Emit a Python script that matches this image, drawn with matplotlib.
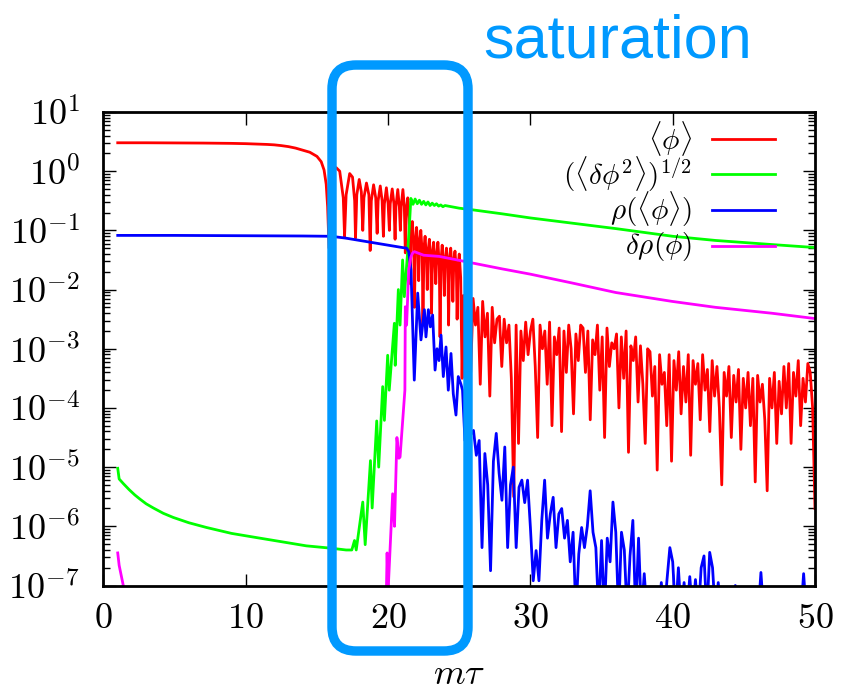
import numpy as np
import matplotlib
matplotlib.use("Agg")
import matplotlib.pyplot as plt
from matplotlib.patches import FancyBboxPatch
from matplotlib.transforms import IdentityTransform
from matplotlib.ticker import LogLocator, NullFormatter

plt.rcParams['mathtext.fontset'] = 'cm'
plt.rcParams['font.family'] = ['DejaVu Serif']

# ---------------- data (y as log10) ----------------
# <phi>  (red): smooth part, oscillating part, noisy tail
red_t_smooth = [1.0, 3, 5, 7, 9, 10, 11, 11.5, 12, 12.5, 13, 13.5, 14, 14.5, 15, 15.3, 15.5, 15.65, 15.75, 15.85]
red_log_smooth = [0.48, 0.48, 0.478, 0.475, 0.47, 0.465, 0.457, 0.452, 0.445, 0.432, 0.415, 0.39, 0.355, 0.32, 0.25,
                  0.16, 0.02, -0.22, -0.6, -1.3]
red_t_osc = [16.1, 16.35, 16.6, 16.85, 16.94,
             17.05, 17.3, 17.5, 17.65, 17.71,
             17.8, 17.97, 18.12, 18.22,
             18.3, 18.48, 18.65, 18.74,
             18.82, 18.98, 19.13, 19.23,
             19.3, 19.45, 19.58, 19.67,
             19.74, 19.88, 20.0, 20.09,
             20.15, 20.29, 20.41, 20.49,
             20.55, 20.68, 20.79, 20.86,
             20.92, 21.04, 21.14, 21.21,
             21.27, 21.38, 21.48, 21.55,
             21.62, 21.7, 21.8, 21.85,
             21.92, 22.0, 22.1, 22.15,
             22.22, 22.3, 22.4, 22.45,
             22.52, 22.6, 22.7, 22.75,
             22.82, 22.9, 23.0, 23.05,
             23.12, 23.2, 23.3, 23.35,
             23.42, 23.5, 23.6, 23.65,
             23.72, 23.8, 23.9, 23.95,
             24.02, 24.1, 24.2, 24.25,
             24.32, 24.4, 24.5, 24.55,
             24.62, 24.7, 24.8, 24.85,
             24.92, 25.0, 25.1, 25.2]
red_log_osc = [0.0, 0.06, 0.0, -0.45, -1.10,
               -0.4, -0.04, -0.1, -0.5, -1.13,
               -0.4, -0.14, -0.35, -1.0,
               -0.45, -0.2, -0.4, -1.34,
               -0.5, -0.23, -0.45, -1.05,
               -0.5, -0.25, -0.5, -1.1,
               -0.55, -0.28, -0.55, -1.0,
               -0.55, -0.30, -0.55, -1.15,
               -0.6, -0.31, -0.6, -1.0,
               -0.6, -0.31, -0.6, -1.38,
               -0.7, -0.45, -0.8, -1.9,
               -1.0, -0.85, -1.2, -2.3,
               -1.3, -0.95, -1.3, -1.85,
               -1.2, -1.0, -1.4, -2.6,
               -1.3, -1.1, -1.5, -2.0,
               -1.35, -1.15, -1.5, -2.4,
               -1.4, -1.2, -1.6, -1.9,
               -1.4, -1.2, -1.6, -2.8,
               -1.5, -1.25, -1.6, -2.1,
               -1.5, -1.3, -1.6, -2.6,
               -1.5, -1.3, -1.7, -2.2,
               -1.5, -1.35, -1.7, -2.5,
               -1.6, -1.4, -1.8, -3.5]
red_log_tail = [-2.1, -2.9, -2.2, -3.4, -2.15, -2.6, -2.3, -3.6, -2.2, -2.8, -2.4, -3.8, -2.3, -2.9, -2.5,
                -2.45, -3.3, -2.5, -2.9, -2.6, -3.5, -5.5, -2.6, -4.6, -2.7, -3.2, -2.55, -3.1, -2.7,
                -2.5, -3.3, -4.5, -2.6, -3.0, -2.7, -3.6, -2.55, -4.3, -2.8, -3.1, -2.65, -4.4, -2.7, -3.4,
                -2.6, -3.0, -4.1, -2.75, -3.2, -2.6,
                -2.65, -3.4, -2.7, -4.2, -2.85, -3.1, -2.6, -3.7, -2.8, -4.5, -2.65, -3.3, -2.9, -3.0,
                -2.75, -4.0, -2.8, -3.5, -2.7, -4.75, -2.95, -3.2, -2.8, -3.9, -2.95, -3.6, -4.6, -3.0,
                -3.05, -3.8, -3.3, -5.05, -3.1, -3.6, -3.4, -4.3, -3.1, -4.9, -3.2, -3.7, -3.05, -4.1,
                -3.3, -3.9, -3.1, -4.8, -3.2, -3.6, -3.25, -4.2, -3.1, -3.7, -3.35, -4.4, -3.2, -3.8,
                -3.3, -4.0, -5.3, -3.4, -3.8, -3.3, -4.5, -3.45, -3.9, -3.35, -4.7, -3.5, -4.0, -3.4,
                -4.3, -3.5, -5.25, -3.45, -3.9, -3.6, -4.2, -5.4, -3.5, -4.0, -3.4, -4.6, -3.55, -4.1,
                -3.3, -4.0, -3.25, -4.6, -3.4, -3.8, -3.2, -4.3, -3.5, -3.9, -3.25, -3.4, -4.0, -5.7]

# (<dphi^2>)^(1/2)  (green)
green_t = [1.0, 1.1, 1.4, 1.8, 2.2, 2.56, 3.0, 3.5, 4.2, 4.9, 6, 7.24, 9, 10.74, 12.5, 14.25, 16, 17.05,
           17.45, 17.64, 17.76,
           18.22, 18.39, 18.76, 18.88, 19.2, 19.34, 19.62, 19.74, 19.97, 20.08, 20.44, 20.5, 20.72, 20.84,
           21.02, 21.14, 21.37, 21.5, 21.6, 21.75, 21.9, 22.05, 22.2, 22.35, 22.5, 22.65, 22.8, 22.95,
           23.1, 23.25, 23.4, 23.55, 23.7, 23.85, 24, 25, 26, 28, 30, 33, 36, 40, 43, 47, 50]
green_log = [-5.02, -5.2, -5.28, -5.38, -5.47, -5.54, -5.62, -5.69, -5.78, -5.85, -5.94, -6.02, -6.12,
             -6.19, -6.26, -6.33, -6.37, -6.40,
             -6.40, -6.24, -6.4, -5.59, -6.31, -4.89, -5.69, -4.22, -5.0, -3.64, -4.21, -3.11, -3.7, -2.57,
             -3.28, -2.0, -2.6, -1.5, -2.12, -1.38, -0.9, -0.46, -0.56, -0.47, -0.55, -0.49, -0.56, -0.51,
             -0.57, -0.52, -0.58, -0.54, -0.58, -0.55, -0.59, -0.57, -0.6, -0.58, -0.625, -0.655, -0.72,
             -0.79, -0.88, -0.97, -1.10, -1.17, -1.24, -1.29]

# rho(<phi>)  (blue): flat part and fall, then noisy tail on a 0.2 grid
blue_t_head = [1.0, 5, 10, 14, 16, 17, 18, 19, 20, 20.5, 21.0, 21.3, 21.45, 21.55, 21.61, 21.7, 21.84,
               22.08, 22.31, 22.55, 22.66, 22.83, 22.97, 23.13, 23.3, 23.44, 23.58, 23.72, 23.88, 24.07,
               24.23, 24.42, 24.58, 24.77, 24.93, 25.12, 25.23, 25.4]
blue_log_head = [-1.085, -1.085, -1.09, -1.095, -1.10, -1.13, -1.17, -1.21, -1.25, -1.27, -1.29, -1.30,
                 -1.36, -1.55, -1.67, -2.4, -3.53, -2.06, -2.85, -2.34, -2.8, -2.34, -2.63, -2.43, -3.36,
                 -3.0, -3.2, -2.77, -3.47, -2.97, -3.7, -3.08, -3.76, -4.12, -3.47, -3.6, -3.7, -4.55]
blue_log_tail = [-4.1, -4.45, -4.38, -4.8, -4.55, -6.36, -4.77, -5.3, -6.75, -4.9,
                 -4.43, -5.1, -5.56, -4.66, -6.36, -5.3, -5.0, -6.36, -5.34, -5.22,
                 -5.6, -5.22, -6.02, -6.92, -6.41, -6.92, -5.9, -5.22, -6.2, -5.79,
                 -5.51, -6.36, -5.79, -5.7, -6.2, -5.9, -6.6, -6.1, -7.5, -6.47,
                 -6.02, -6.36, -6.0, -5.4, -6.1, -6.36, -7.5, -6.24, -7.5, -6.2,
                 -6.6, -5.59, -6.1, -7.5, -6.1, -6.4, -7.5, -6.5, -5.9, -7.5,
                 -6.2, -7.5, -6.8, -7.5, -7.5, -7.5, -7.5, -7.5, -6.95, -7.5,
                 -6.9, -6.36, -6.6, -7.5, -6.7, -7.5, -6.95, -7.5, -6.85, -7.5,
                 -6.9, -7.5, -6.7, -6.5, -7.5, -6.44, -6.7, -7.5, -6.95, -7.5,
                 -7.5, -7.5, -7.5, -7.5, -7.0, -7.5, -7.5, -7.5, -7.5, -7.5,
                 -7.5, -7.5, -7.5, -6.78, -7.5, -7.5, -7.5, -7.5, -7.5, -7.5,
                 -7.5, -7.5, -7.5, -7.5, -7.5, -7.5, -7.5, -7.5, -6.8, -7.5,
                 -7.5, -7.5, -7.5]

# delta rho(phi)  (magenta)
mag_t = [1.0, 1.1, 1.39, 1.6, 19.85, 19.93, 20.0, 20.32, 20.45, 20.62, 20.76, 20.84, 21.18, 21.21, 21.3,
         21.45, 21.6, 21.73, 21.85, 22.5, 23.6, 25.9, 28, 30, 32.95, 36, 39.96, 43, 46.97, 50]
mag_log = [-6.45, -6.66, -7.0, -7.5, -7.5, -6.45, -7.1, -5.45, -6.0, -4.5, -4.85, -4.83, -3.7, -2.29, -2.6,
           -1.67, -1.45, -1.38, -1.36, -1.42, -1.44, -1.55, -1.65, -1.74, -1.89, -2.05, -2.2, -2.3, -2.4, -2.49]

labels = [r'$\langle\phi\rangle$', r'$(\langle\delta\phi^2\rangle)^{1/2}$',
          r'$\rho(\langle\phi\rangle)$', r'$\delta\rho(\phi)$']
colors = ['#ff0000', '#00ff00', '#0000ff', '#ff00ff']

red_t = np.concatenate([red_t_smooth, red_t_osc, np.linspace(25.3, 50, len(red_log_tail))])
red_v = 10.0 ** np.concatenate([red_log_smooth, red_log_osc, red_log_tail])
green_v = 10.0 ** np.array(green_log)
blue_t = np.concatenate([blue_t_head, np.linspace(25.6, 50, len(blue_log_tail))])
blue_v = 10.0 ** np.concatenate([blue_log_head, blue_log_tail])
mag_v = 10.0 ** np.array(mag_log)

# ---------------- figure ----------------
W, H = 845, 696
fig = plt.figure(figsize=(W / 100, H / 100), dpi=100)
ax = fig.add_axes([103.5 / W, 1 - 585.5 / H, 711.5 / W, 473.5 / H])

lw = 2.0
ax.plot(red_t, red_v, color=colors[0], lw=lw)
ax.plot(green_t, green_v, color=colors[1], lw=lw)
ax.plot(blue_t, blue_v, color=colors[2], lw=lw)
ax.plot(mag_t, mag_v, color=colors[3], lw=lw)

ax.set_yscale('log')
ax.set_xlim(0, 50)
ax.set_ylim(1e-7, 10)

xt = [0, 10, 20, 30, 40, 50]
ax.set_xticks(xt)
ax.set_xticklabels([f'${v}$' for v in xt])
yexp = list(range(-7, 2))
ax.set_yticks([10.0 ** k for k in yexp])
ax.set_yticklabels([f'$10^{{{k}}}$' for k in yexp])
ax.yaxis.set_minor_locator(LogLocator(base=10, subs=np.arange(2, 10), numticks=20))
ax.yaxis.set_minor_formatter(NullFormatter())
ax.tick_params(which='both', direction='in', top=True, right=True, width=1.0, labelsize=26)
ax.tick_params(which='major', length=9)
ax.tick_params(which='minor', length=5)
ax.tick_params(axis='x', pad=11)
ax.tick_params(axis='y', pad=17)
for s in ax.spines.values():
    s.set_linewidth(2.0)

ax.set_xlabel(r'$m\tau$', fontsize=26, labelpad=16)

# legend, gnuplot style: label on the left, sample line on the right
rows = [0.944, 0.869, 0.794, 0.716]
for lab, c, yy in zip(labels, colors, rows):
    ax.plot([0.855, 0.944], [yy, yy], color=c, lw=lw, transform=ax.transAxes)
    ax.text(0.827, yy, lab, transform=ax.transAxes, ha='right', va='center', fontsize=21)

# "saturation" box (figure pixels)
box = FancyBboxPatch((332, H - 651), 136, 586, boxstyle='round,pad=0,rounding_size=24',
                     transform=IdentityTransform(), fill=False, ec='#0099ff', lw=6.8, zorder=5)
fig.add_artist(box)
fig.text(618 / W, 1 - 58 / H, 'saturation', color='#0099ff', fontsize=44,
         family='Liberation Sans', ha='center', va='baseline')

fig.savefig('out.png', dpi=100)
